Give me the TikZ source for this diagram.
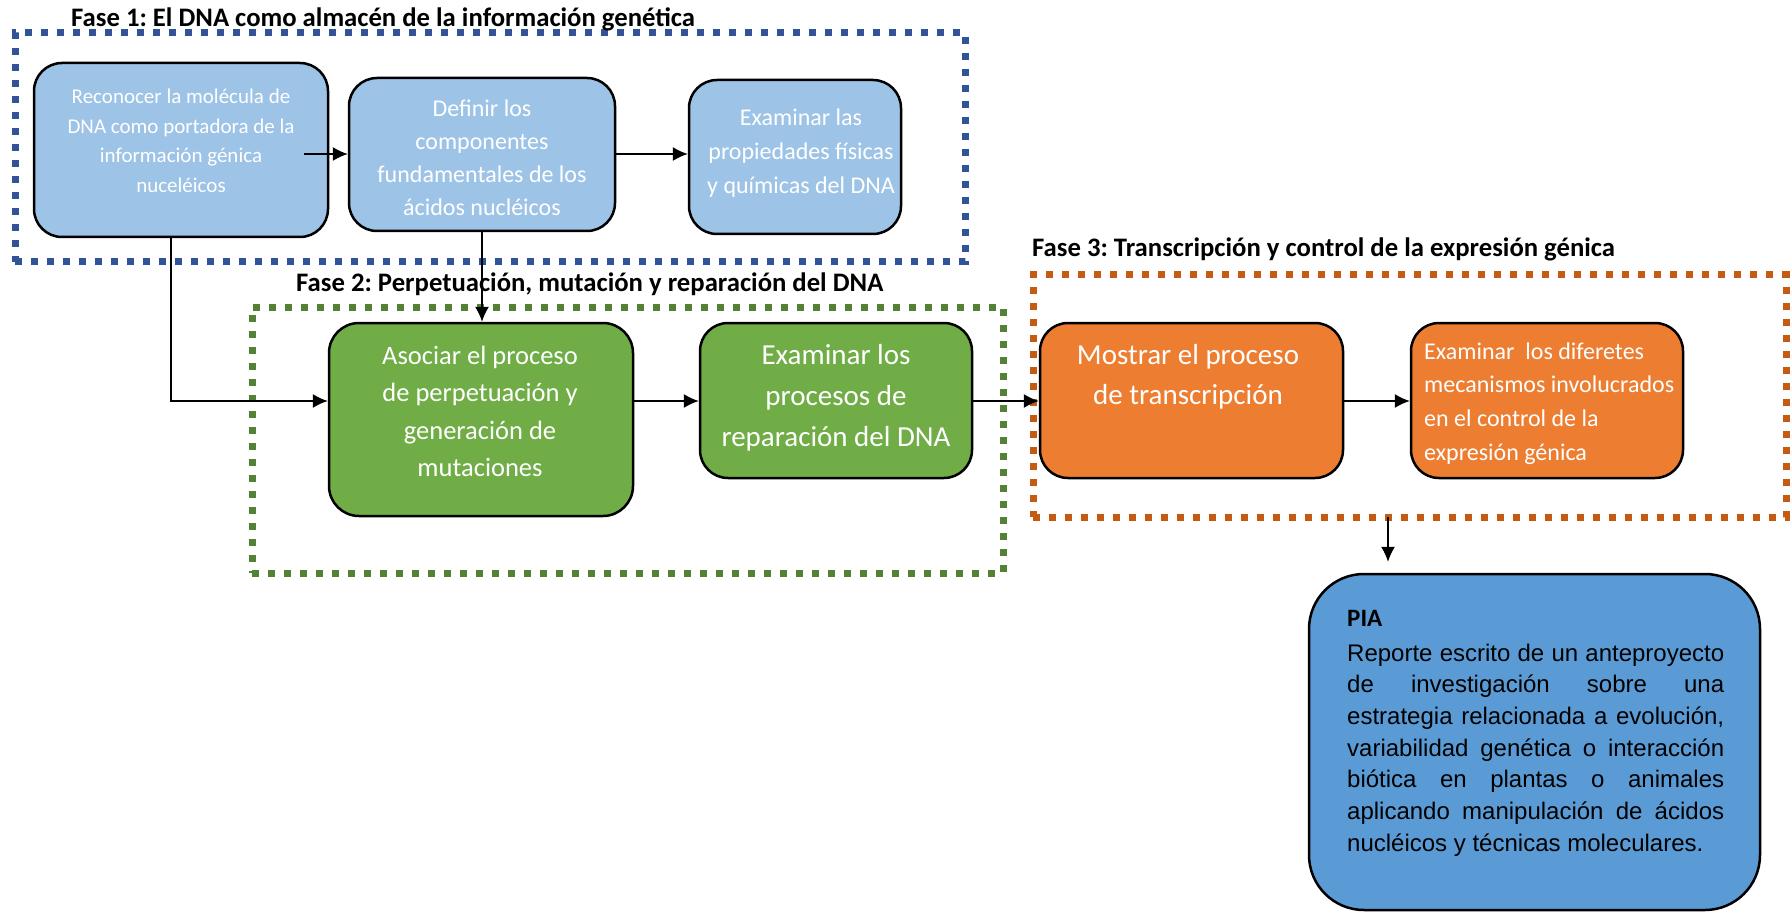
\documentclass[tikz,border=0pt]{standalone}
\usepackage{fontspec}
\setmainfont{Carlito}
\newfontfamily\arialfont{Liberation Sans}
\usetikzlibrary{arrows.meta}
\frenchspacing

\definecolor{azulfase}{HTML}{2F5597}
\definecolor{verdefase}{HTML}{548235}
\definecolor{naranjafase}{HTML}{C55A11}
\definecolor{azulclaro}{HTML}{9DC3E6}
\definecolor{verdecaja}{HTML}{70AD47}
\definecolor{naranjacaja}{HTML}{ED7D31}
\definecolor{azulpia}{HTML}{5B9BD5}

\tikzset{
    marco/.style={line width=7pt, dash pattern=on 7pt off 9pt, inner sep=0pt, outer sep=0pt},
    caja/.style={draw=black, line width=2.5pt, rounded corners=28pt, inner sep=0pt},
    texto/.style={text=white, align=center, inner sep=0pt},
    titulo/.style={font=\bfseries\fontsize{26.7}{32}\selectfont, anchor=base west, inner sep=0pt},
    flecha/.style={-{Latex[length=15pt,width=14pt]}, line width=1.3pt},
}

\begin{document}
\begin{tikzpicture}[x=1pt, y=-1pt]
    \useasboundingbox (0,0) rectangle (1792,912);
    \node[marco, draw=azulfase, minimum width=950, minimum height=229] (fase1) at (490,147.5) {};
    \node[marco, draw=verdefase, minimum width=751, minimum height=266] (fase2) at (627.5,440) {};
    \node[marco, draw=naranjafase, minimum width=753, minimum height=242] (fase3) at (1409.5,396) {};
    \node[titulo] (titulo1) at (71,27) {Fase 1: El DNA como almacén de la información genética};
    \node[titulo] (titulo2) at (296,291) {Fase 2: Perpetuación, mutación y reparación del DNA};
    \node[titulo] (titulo3) at (1032,257) {Fase 3: Transcripción y control de la expresión génica};

    \node[caja, fill=azulclaro, minimum width=294, minimum height=174] (reconocer) at (181,150) {};
    \node[texto, font=\fontsize{21}{29.5}\selectfont] (reconocer-t) at (181,141) {Reconocer la molécula de\\DNA como portadora de la\\información génica\\nuceléicos};
    \node[caja, fill=azulclaro, minimum width=266, minimum height=153] (definir) at (482,154.5) {};
    \node[texto, font=\fontsize{24}{33}\selectfont] (definir-t) at (482,158) {Definir los\\componentes\\fundamentales de los\\ácidos nucléicos};
    \node[caja, fill=azulclaro, minimum width=212, minimum height=154] (propiedades) at (795,157) {};
    \node[texto, font=\fontsize{24}{34}\selectfont] (propiedades-t) at (801,153) {Examinar las\\propiedades físicas\\y químicas del DNA};

    \node[caja, fill=verdecaja, rounded corners=30pt, minimum width=304, minimum height=193] (asociar) at (481,419.5) {};
    \node[texto, font=\fontsize{26.5}{37.5}\selectfont] (asociar-t) at (480,411.5) {Asociar el proceso\\de perpetuación y\\generación de\\mutaciones};
    \node[caja, fill=verdecaja, minimum width=272, minimum height=155] (reparacion) at (836,400.5) {};
    \node[texto, font=\fontsize{29}{41}\selectfont] (reparacion-t) at (836,397.5) {Examinar los\\procesos de\\reparación del DNA};

    \node[caja, fill=naranjacaja, minimum width=303, minimum height=155] (mostrar) at (1191.5,400.5) {};
    \node[texto, font=\fontsize{29}{40}\selectfont] (mostrar-t) at (1188,377) {Mostrar el proceso\\de transcripción};
    \node[caja, fill=naranjacaja, minimum width=272, minimum height=155] (mecanismos) at (1547,400.5) {};
    \node[texto, align=left, anchor=west, font=\fontsize{24}{33.6}\selectfont] (mecanismos-t) at (1424,403.5) {Examinar~ los diferetes\\mecanismos involucrados\\en el control de la\\expresión génica};

    \node[caja, fill=azulpia, rounded corners=55pt, minimum width=451, minimum height=336] (pia) at (1534.5,742) {};
    \node[inner sep=0pt, anchor=north west, text width=377pt, align=justify] (pia-t) at (1347,610) {{\bfseries\fontsize{25}{30}\selectfont PIA}\par\vspace{3pt}
        {\arialfont\fontsize{24}{31.7}\selectfont Reporte escrito de un anteproyecto\linebreak de investigación sobre una\linebreak estrategia relacionada a evolución,\linebreak variabilidad genética o interacción\linebreak biótica en plantas o animales\linebreak aplicando manipulación de ácidos\linebreak nucléicos y técnicas moleculares.\par}};

    \coordinate (fila) at (0,401);
    \coordinate (reconocer-sal) at (304,154);
    \coordinate (fase3-sal) at (1388,517);
    \draw[flecha] (reconocer-sal) -- (definir.west |- reconocer-sal);
    \draw[flecha] (definir.east |- reconocer-sal) -- (propiedades.west |- reconocer-sal);
    \draw[flecha] ([xshift=-10pt]reconocer.south) |- (asociar.west |- fila);
    \draw[flecha] (definir.south) -- (definir.south |- asociar.north);
    \draw[flecha] (asociar.east |- fila) -- (reparacion.west |- fila);
    \draw[flecha] (reparacion.east |- fila) -- (mostrar.west |- fila);
    \draw[flecha] (mostrar.east |- fila) -- (mecanismos.west |- fila);
    \draw[flecha] (fase3-sal) -- ([yshift=11pt]pia.north -| fase3-sal);
\end{tikzpicture}
\end{document}
